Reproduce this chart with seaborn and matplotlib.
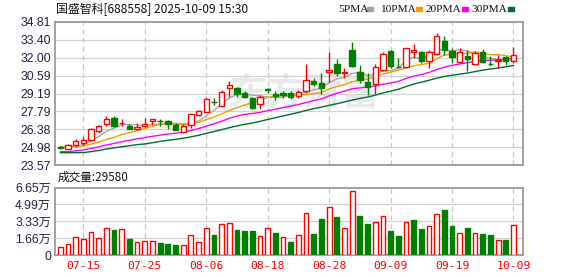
import numpy as np
import pandas as pd
import matplotlib
matplotlib.use("Agg")
import matplotlib.pyplot as plt
import matplotlib.transforms as mtransforms
from matplotlib.patches import Rectangle
import seaborn as sns

# ---------------- data ----------------
dates = [d.strftime("%m-%d") for d in pd.bdate_range("2025-07-10", "2025-10-09")
         if not (pd.Timestamp("2025-10-01") <= d <= pd.Timestamp("2025-10-08"))]

opens = [25.02, 24.83, 25.12, 25.28, 25.53, 26.24, 26.77, 27.24, 26.88, 26.66,
         26.38, 26.66, 27.01, 27.05, 27.05, 26.70, 26.19, 26.71, 27.50, 27.76,
         28.55, 28.23, 29.60, 29.60, 29.20, 28.81, 28.40, 29.53, 29.15, 29.25,
         29.20, 29.00, 29.41, 30.20, 30.04, 30.90, 31.50, 30.80, 32.61, 30.90,
         30.06, 29.90, 31.07, 32.53, 31.30, 31.30, 32.48, 32.42, 31.77, 32.27,
         33.32, 32.50, 31.69, 32.16, 31.50, 32.43, 31.50, 31.77, 32.08, 31.75]
closes = [24.90, 25.12, 25.44, 25.51, 26.38, 26.61, 27.16, 26.66, 26.90, 26.38,
          26.56, 26.77, 27.19, 27.03, 26.80, 26.35, 26.63, 27.55, 27.80, 28.78,
          28.50, 29.28, 29.83, 29.18, 28.95, 28.07, 28.93, 29.45, 29.00, 29.05,
          28.93, 29.27, 30.25, 29.95, 29.65, 31.03, 30.80, 30.90, 31.37, 30.25,
          29.70, 31.30, 32.27, 31.38, 31.25, 32.75, 32.60, 31.77, 32.43, 33.71,
          32.61, 32.03, 32.43, 31.88, 32.35, 31.64, 31.48, 31.85, 31.77, 32.20]
highs = [25.05, 25.20, 25.59, 25.75, 26.50, 26.71, 27.42, 27.45, 27.18, 26.82,
         26.90, 27.24, 27.20, 27.21, 27.10, 26.85, 26.78, 27.60, 27.90, 28.94,
         28.86, 29.50, 30.20, 29.70, 29.35, 28.90, 29.10, 29.65, 29.40, 29.35,
         29.35, 29.45, 31.48, 30.43, 30.80, 32.47, 31.90, 31.20, 33.24, 31.40,
         30.77, 31.50, 32.43, 32.60, 32.00, 32.80, 33.10, 32.55, 32.60, 33.92,
         33.71, 32.75, 32.74, 32.60, 32.50, 32.70, 32.10, 32.20, 32.10, 32.87]
lows = [24.85, 24.80, 25.00, 25.14, 25.43, 26.10, 26.66, 26.58, 26.60, 26.38,
        26.32, 26.60, 26.69, 26.66, 26.40, 26.30, 26.15, 26.50, 27.45, 27.76,
        28.28, 28.15, 28.90, 28.90, 28.80, 27.95, 27.95, 29.20, 28.70, 28.80,
        28.76, 28.80, 29.20, 29.80, 29.15, 30.12, 30.60, 30.40, 31.30, 30.00,
        29.10, 29.15, 30.95, 31.17, 31.22, 31.25, 31.95, 31.60, 31.22, 32.20,
        32.20, 31.60, 31.60, 30.98, 31.40, 31.56, 31.35, 31.22, 31.43, 31.56]
volumes = [7900, 10800, 17400, 15400, 22300, 16400, 26200, 24500, 25200, 15700,
           12500, 13700, 13700, 11800, 10800, 9800, 9800, 19300, 12800, 26200,
           19600, 30100, 31100, 24500, 23600, 23600, 18300, 26200, 21600, 17400,
           12800, 19300, 40900, 20600, 35300, 46800, 37300, 26200, 62600, 38300,
           30700, 32100, 38300, 23600, 18700, 32400, 34400, 25500, 28500, 40300,
           44200, 28500, 21600, 26500, 21600, 20600, 19600, 14700, 14700, 29580]
# closes of the 29 sessions before the window (needed for the moving averages)
prior_closes = [25.3, 25.2, 25.4, 24.1, 23.9, 23.8, 24.0, 24.1, 23.9, 24.1,
                25.1, 24.3, 24.0, 24.1, 24.2, 24.0, 24.3, 24.2, 24.1, 24.3,
                24.8, 25.1, 25.2, 25.0, 25.2, 24.9, 25.0, 24.8, 24.9]

price_ticks = [23.57, 24.975, 26.38, 27.785, 29.19, 30.595, 32.00, 33.405, 34.81]
price_labels = ["23.57", "24.98", "26.38", "27.79", "29.19", "30.59", "32.00", "33.40", "34.81"]
vol_ticks = [0, 16625, 33250, 49875, 66500]
vol_labels = ["0", "1.66万", "3.33万", "4.99万", "6.65万"]
date_labels = ["07-15", "07-25", "08-06", "08-18", "08-28", "09-09", "09-19", "10-09"]
ma_periods = [5, 10, 20, 30]
ma_names = ["5PMA", "10PMA", "20PMA", "30PMA"]
ma_colors = ["#a6a6a6", "#f0a000", "#ff00ff", "#006d32"]
title_text = "国盛智科[688558] 2025-10-09 15:30"

# ---------------- derived ----------------
n = len(closes)
x = np.arange(n)
o = np.array(opens); c = np.array(closes); h = np.array(highs); l = np.array(lows)
v = np.array(volumes)
allc = pd.Series(prior_closes + closes)
ma = {p: allc.rolling(p).mean().to_numpy()[len(prior_closes):] for p in ma_periods}
df = pd.DataFrame({"x": x})
for p in ma_periods:
    df[f"ma{p}"] = ma[p]
prev_close = np.concatenate([[prior_closes[-1]], c[:-1]])

RED = "#ff0000"
GREEN = "#008000"

sns.set_theme(style="white")
plt.rcParams["font.family"] = ["Liberation Sans", "Noto Sans CJK SC", "DejaVu Sans"]

W, H = 578, 276
fig = plt.figure(figsize=(W / 100, H / 100), dpi=100)
L, R = 55.3, 522.7
ax = fig.add_axes([L / W, 1 - 165 / H, (R - L) / W, 143 / H])
axv = fig.add_axes([L / W, 1 - 255 / H, (R - L) / W, 67.5 / H])

xlim = (-0.65, 60.2)
grid_idx = [dates.index(d) for d in date_labels]

for a in (ax, axv):
    a.set_xlim(*xlim)
    for s in a.spines.values():
        s.set_color("#9a9a9a")
        s.set_linewidth(1.3)
    a.tick_params(axis="y", length=0, labelsize=8.7, labelcolor="#222244", pad=3)
    a.set_xticks([])
    for gi in grid_idx:
        a.axvline(gi, color="#c8c8c8", lw=0.9, ls=(0, (4, 3)), zorder=0)

# watermark
ax.text(0.535, 0.50, "东方财富", transform=ax.transAxes, ha="center", va="center",
        fontsize=27, fontweight="bold", color="#e9e9e9", family=["Noto Sans CJK SC"],
        style="italic", zorder=0)

# price panel
ax.set_ylim(price_ticks[0], price_ticks[-1])
ax.set_yticks(price_ticks)
ax.set_yticklabels(price_labels)
for t in price_ticks[1:-1]:
    ax.axhline(t, color="#d2d2d2", lw=0.9, zorder=0)

for p, col in zip(ma_periods, ma_colors):
    sns.lineplot(data=df, x="x", y=f"ma{p}", ax=ax, color=col, lw=1.0, zorder=2)
ax.set_xlabel(""); ax.set_ylabel("")
ax.set_xticks([])

up = c >= o
cols = np.where(up, RED, GREEN)
ax.vlines(x, l, h, colors=cols, lw=1.0, zorder=3)
body_h = np.maximum(np.abs(c - o), 0.015)
ax.bar(x, body_h, bottom=np.minimum(o, c), width=0.7,
       color=np.where(up, "white", GREEN), edgecolor=cols, linewidth=1.0, zorder=4)

# volume panel
vup = c >= prev_close
vcols = np.where(vup, RED, GREEN)
axv.set_ylim(vol_ticks[0], vol_ticks[-1])
axv.set_yticks(vol_ticks)
axv.set_yticklabels(vol_labels)
for t in vol_ticks[1:-1]:
    axv.axhline(t, color="#d2d2d2", lw=0.9, zorder=0)
axv.bar(x, v, width=0.62, color=np.where(vup, "white", GREEN), edgecolor=vcols,
        linewidth=1.0, zorder=3)
trans = mtransforms.blended_transform_factory(axv.transData, fig.transFigure)
for gi, lab in zip(grid_idx, date_labels):
    axv.text(gi, 1 - 266 / H, lab, transform=trans, ha="center", va="center",
             fontsize=8.2, color=RED, family="DejaVu Sans Mono", clip_on=False)

# texts
fig.text(56 / W, 1 - 8.5 / H, title_text, ha="left", va="center", fontsize=8.6,
         color="#111111", family=["Noto Sans CJK SC", "DejaVu Sans"])
fig.text(58 / W, 1 - 177 / H, f"成交量:{volumes[-1]}", ha="left", va="center",
         fontsize=8.4, color="#111111", family=["Noto Sans CJK SC", "DejaVu Sans"])

legend_x = [338.3, 380.0, 425.7, 471.7]
sq_x = [367.3, 416.0, 462.3, 508.3]
for name, col, tx, sx in zip(ma_names, ma_colors, legend_x, sq_x):
    fig.text(tx / W, 1 - 9 / H, name, ha="left", va="center", fontsize=8.2,
             color="#111111", family="Liberation Serif")
    fig.patches.append(Rectangle((sx / W, 1 - 11 / H), 6 / W, 4 / H,
                                 transform=fig.transFigure, color=col))

fig.savefig("out.png", dpi=100, facecolor="white")
